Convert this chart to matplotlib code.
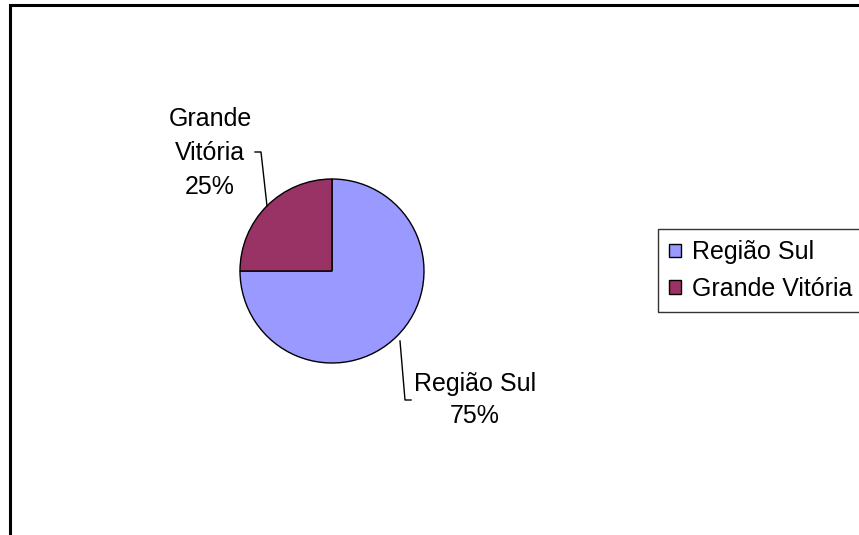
import matplotlib.pyplot as plt
from matplotlib.patches import Rectangle

# data
labels = ['Região Sul', 'Grande Vitória']
values = [75, 25]
colors = ['#9999FF', '#993366']

plt.rcParams['font.family'] = ['Liberation Sans', 'DejaVu Sans']

W, H = 859, 535
fig = plt.figure(figsize=(W / 100, H / 100), dpi=100)
ax = fig.add_axes([0, 0, 1, 1])
ax.set_xlim(0, W)
ax.set_ylim(0, H)
ax.axis('off')

# outer chart frame (right / bottom run off the picture)
fig.patches.append(Rectangle((10 / W, -0.1), 1.2, (H - 5) / H + 0.1,
                             transform=fig.transFigure, fill=False,
                             edgecolor='black', linewidth=2.2))

cx, cy, r = 332, H - 271, 92
wedges, _ = ax.pie(values, colors=colors, startangle=90, counterclock=False,
                   center=(cx, cy), radius=r,
                   wedgeprops=dict(edgecolor='black', linewidth=1.0))
ax.set_xlim(0, W)
ax.set_ylim(0, H)
ax.set_aspect('equal')

total = sum(values)
# data labels with leader lines
ax.text(210, H - 153, f'{labels[1].replace(" ", chr(10))}\n{values[1] / total:.0%}',
        ha='center', va='center', fontsize=18, linespacing=1.5)
ax.plot([255, 261, 267], [H - 152, H - 152, H - 206], color='black', lw=1)

ax.text(475, H - 400, f'{labels[0]}\n{values[0] / total:.0%}',
        ha='center', va='center', fontsize=18, linespacing=1.45)
ax.plot([400, 405, 411], [H - 341, H - 400, H - 400], color='black', lw=1)

leg = ax.legend(wedges, labels, loc='upper left',
                bbox_to_anchor=(658 / W, 1 - 229 / H), bbox_transform=fig.transFigure,
                fontsize=18, frameon=True, fancybox=False, borderaxespad=0,
                handlelength=0.45, handleheight=0.45, handletextpad=0.45,
                labelspacing=0.5, borderpad=0.45)
leg.get_frame().set_edgecolor('black')
leg.get_frame().set_linewidth(1.0)

plt.savefig('out.png', dpi=100)
plt.close()
